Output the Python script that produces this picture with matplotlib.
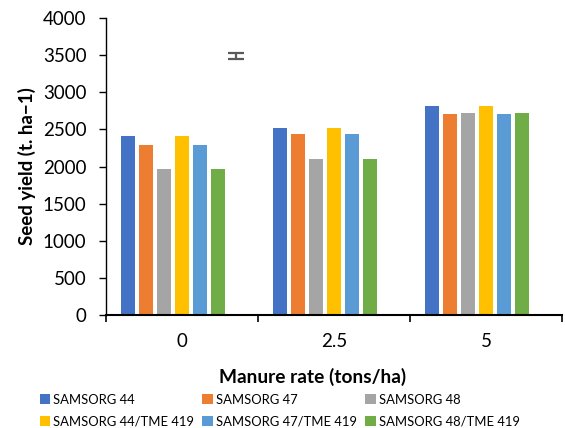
import numpy as np
import matplotlib
matplotlib.use("Agg")
import matplotlib.pyplot as plt

plt.rcParams['font.family'] = ['Lato', 'DejaVu Sans']

# Manure rates (tons/ha) and seed yield per cropping system
rates = ["0", "2.5", "5"]
series_names = ["SAMSORG 44", "SAMSORG 47", "SAMSORG 48",
                "SAMSORG 44/TME 419", "SAMSORG 47/TME 419", "SAMSORG 48/TME 419"]
samsorg44 = [2405, 2520, 2810]
samsorg47 = [2290, 2440, 2705]
samsorg48 = [1965, 2100, 2725]
samsorg44_tme = [2405, 2520, 2810]
samsorg47_tme = [2285, 2435, 2705]
samsorg48_tme = [1965, 2100, 2725]
colors = ["#4472C4", "#ED7D31", "#A5A5A5", "#FFC000", "#5B9BD5", "#70AD47"]

# LSD bar shown as a seventh (unfilled) series in the first group
lsd_value = 3490
lsd_err = 45

values = [samsorg44, samsorg47, samsorg48, samsorg44_tme, samsorg47_tme, samsorg48_tme]

fig = plt.figure(figsize=(5.65, 4.28), dpi=100)
ax = fig.add_axes([106/565, 1 - 315/428, (562-106)/565, (315-18)/428])

n_slots = 7
slot = 0.83 / n_slots
bar_w = slot * 0.78
x = np.arange(len(rates))
handles = []
for i, (vals, name, c) in enumerate(zip(values, series_names, colors)):
    h = ax.bar(x + (i - (n_slots - 1) / 2) * slot, vals, width=bar_w, color=c,
               label=name, zorder=2)
    handles.append(h)

lsd_x = x[0] + (6 - (n_slots - 1) / 2) * slot
ax.errorbar([lsd_x], [lsd_value], yerr=[lsd_err], fmt='none', ecolor="#595959",
            elinewidth=1.6, capsize=6, capthick=1.6, zorder=3)

ax.set_xlim(-0.5, 2.5)
ax.set_ylim(0, 4000)
ax.set_yticks(np.arange(0, 4001, 500))
ax.set_xticks(x)
ax.set_xticklabels(rates)
ax.set_xticks([-0.5, 0.5, 1.5, 2.5], minor=True)
ax.tick_params(axis='x', which='major', length=0, pad=13, labelsize=13.5)
ax.tick_params(axis='x', which='minor', length=5, width=1.2, color="#000000")
ax.tick_params(axis='y', length=5, width=1.0, labelsize=13.5, pad=9)

for s in ['top', 'right']:
    ax.spines[s].set_visible(False)
ax.spines['left'].set_linewidth(1.0)
ax.spines['bottom'].set_linewidth(1.5)

ax.set_ylabel("Seed yield (t. ha\u22121)", fontsize=13.5, fontweight='bold', labelpad=5)
ax.set_xlabel("Manure rate (tons/ha)", fontsize=13.8, fontweight='bold')
ax.xaxis.set_label_coords(0.452, -0.177)

# legend filled row by row: matplotlib fills by column, so interleave
order = [0, 3, 1, 4, 2, 5]
fig.legend([handles[k] for k in order], [series_names[k] for k in order],
           loc='lower left', ncol=3, frameon=False,
           bbox_to_anchor=(0.054, -0.02), fontsize=9.4, handlelength=0.8,
           handleheight=0.8, handletextpad=0.25, columnspacing=0.62,
           labelspacing=0.72, borderpad=0.2)

fig.savefig("out.png", dpi=100)
